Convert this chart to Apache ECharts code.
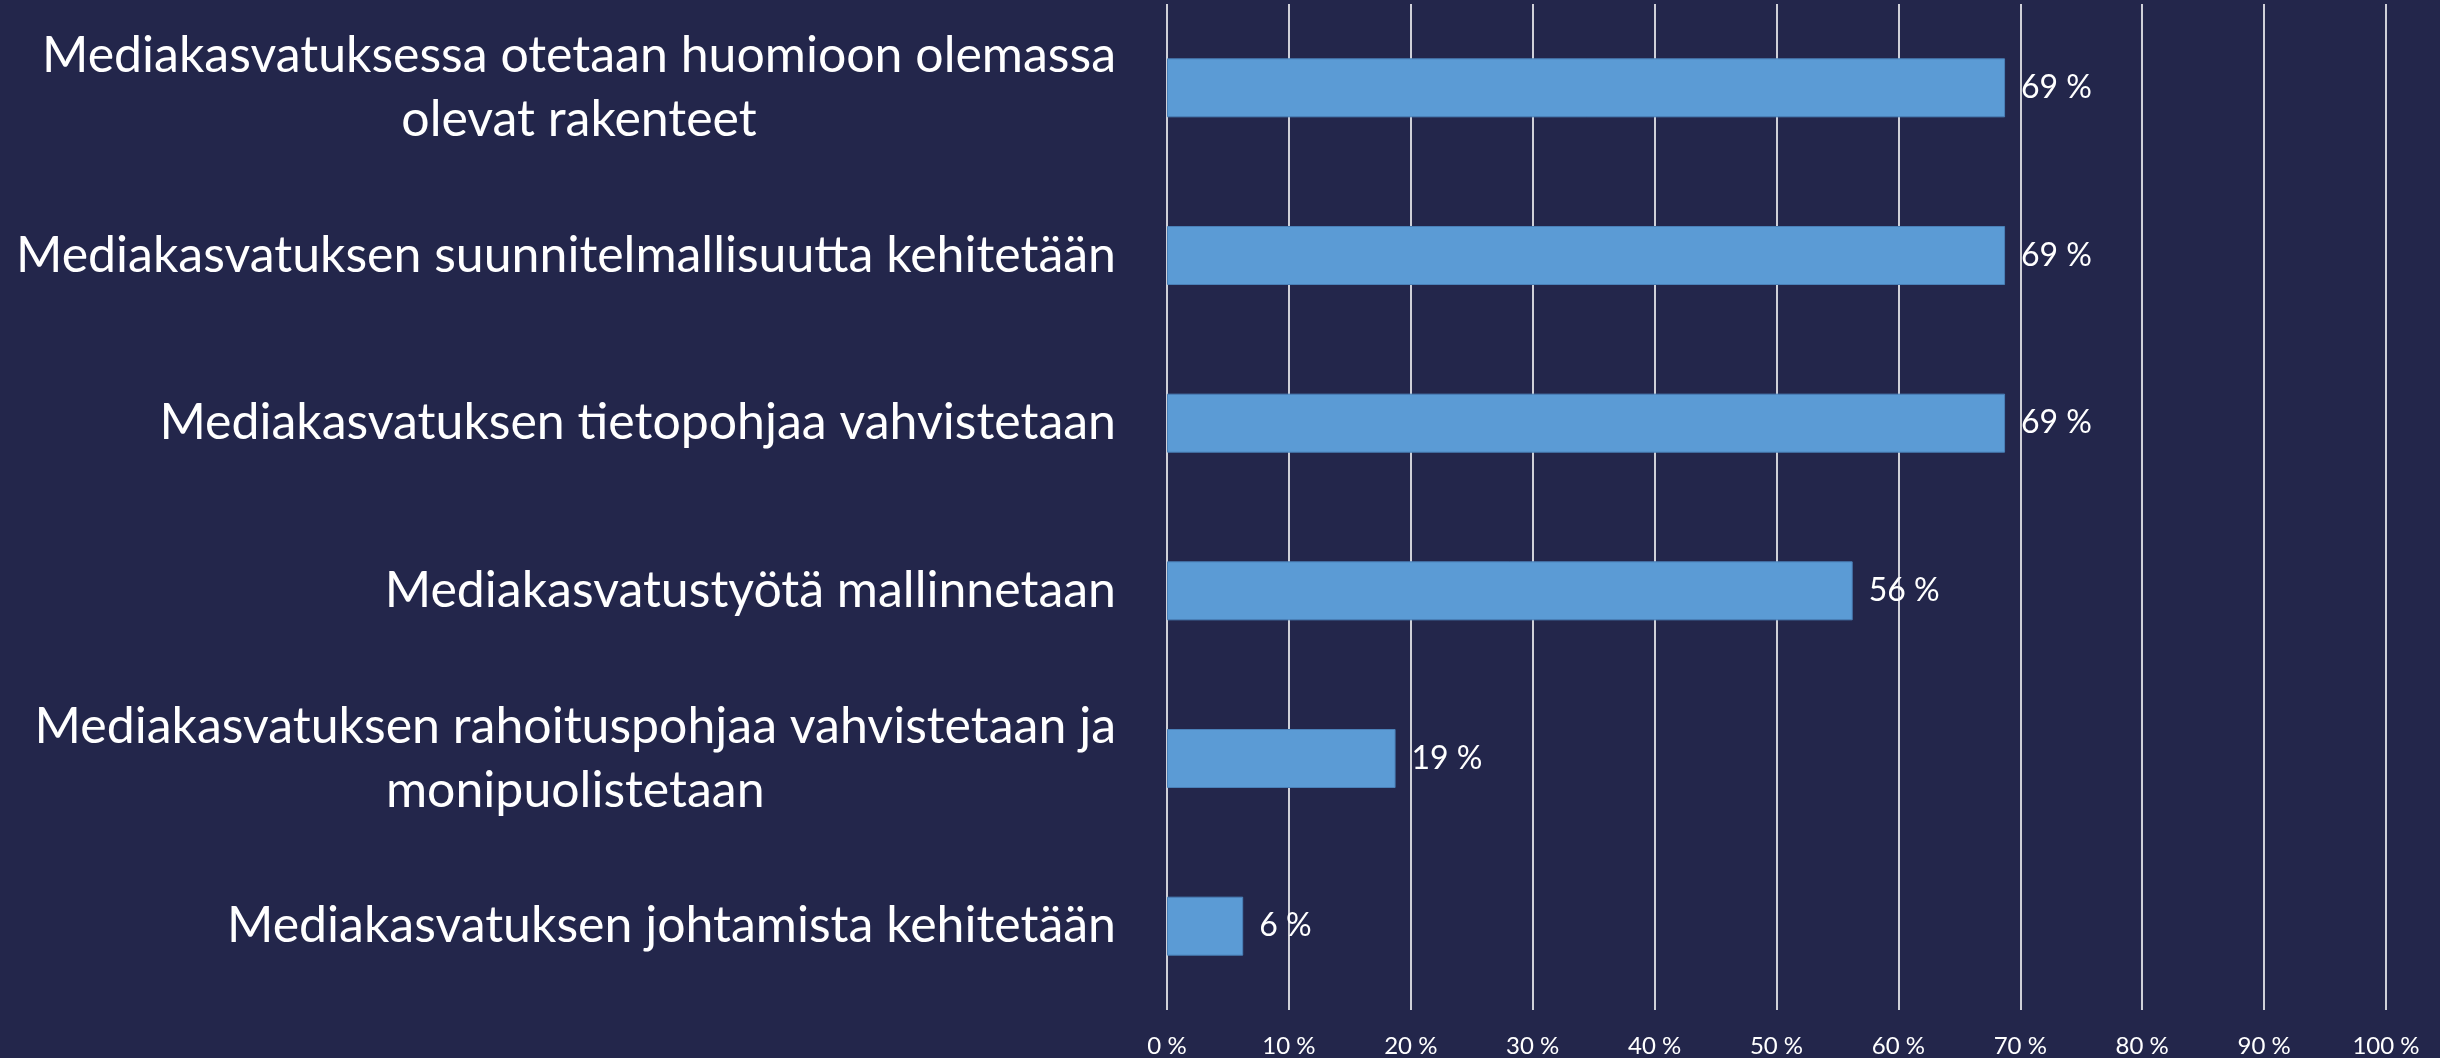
<!DOCTYPE html>
<html>
<head>
<meta charset="utf-8">
<script src="https://cdn.jsdelivr.net/npm/echarts@6/dist/echarts.min.js"></script>
<style>
  html, body { margin: 0; padding: 0; background: #23264b; }
  #chart { width: 2440px; height: 1058px; }
</style>
</head>
<body>
<div id="chart"></div>
<script>
// categories, top to bottom
const categories = [
  "Mediakasvatuksessa otetaan huomioon olemassa\nolevat rakenteet",
  "Mediakasvatuksen suunnitelmallisuutta kehitetään",
  "Mediakasvatuksen tietopohjaa vahvistetaan",
  "Mediakasvatustyötä mallinnetaan",
  "Mediakasvatuksen rahoituspohjaa vahvistetaan ja\nmonipuolistetaan",
  "Mediakasvatuksen johtamista kehitetään"
]
// share of respondents, %
const values = [68.75, 68.75, 68.75, 56.25, 18.75, 6.25]
const xTicks = [0, 10, 20, 30, 40, 50, 60, 70, 80, 90, 100]

const chart = echarts.init(document.getElementById("chart"))

const option = {
  backgroundColor: "#23264b",
  animation: false,
  grid: {
    left: 1167,
    right: 54,
    top: 4,
    bottom: 47,
    containLabel: false,
  },
  xAxis: {
    type: "value",
    min: xTicks[0],
    max: xTicks[xTicks.length - 1],
    interval: xTicks[1] - xTicks[0],
    axisLine: { show: false },
    axisTick: { show: false },
    axisLabel: {
      color: "#ffffff",
      fontFamily: "Lato",
      fontSize: 24,
      margin: 24,
      formatter: "{value} %",
    },
    splitLine: {
      show: true,
      lineStyle: { color: "#cfd0d8", width: 2 },
    },
  },
  yAxis: {
    type: "category",
    inverse: true,
    data: categories,
    axisLine: { show: false },
    axisTick: { show: false },
    axisLabel: {
      margin: 51,
      color: "#ffffff",
      fontFamily: "Lato",
      fontSize: 50,
      lineHeight: 64,
      formatter: (v) => v.split("\n").map((l) => "{c|" + l + "}").join("\n"),
      rich: {
        c: {
          align: "center",
          color: "#ffffff",
          fontFamily: "Lato",
          fontSize: 50,
          lineHeight: 64,
        },
      },
    },
  },
  series: [
    {
      type: "bar",
      data: values,
      barWidth: 59,
      itemStyle: {
        color: "#5b9bd5",
        borderColor: "#4a80b8",
        borderWidth: 1,
      },
      label: {
        show: true,
        position: "right",
        distance: 16,
        color: "#ffffff",
        fontFamily: "Lato",
        fontSize: 32,
        formatter: (p) => Math.round(p.value) + " %",
      },
    },
  ],
}

chart.setOption(option)
</script>
</body>
</html>
